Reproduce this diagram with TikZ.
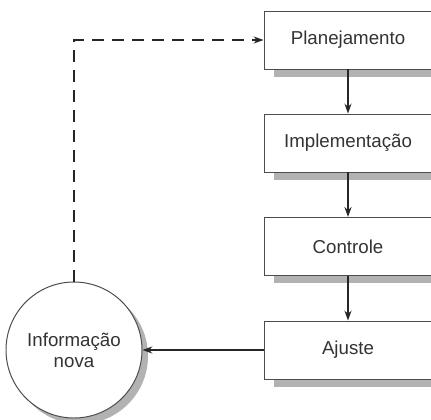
\documentclass[tikz,border=0pt]{standalone}
\usepackage{fontspec}
\setmainfont{Liberation Sans}
\usepackage{tikz}
\usetikzlibrary{arrows.meta,positioning,shadows}

\begin{document}
\begin{tikzpicture}[>={Stealth[length=7pt,width=5pt]}, node distance=2cm]
    \useasboundingbox (0,0) rectangle (10.775,-10.475);
    \tikzset{
      etapa/.style={rectangle, draw=black!70, fill=white, line width=0.7pt,
        minimum width=4.2cm, minimum height=1.45cm, text=black!80,
        font=\fontsize{13.3}{15}\selectfont,
        drop shadow={shadow xshift=0.25cm, shadow yshift=-0.2cm, fill=black!30, opacity=1}},
      seta/.style={->, line width=1.2pt, black!85}
    }
    % Etapas
    \node[etapa] (planejamento) at (8.7, -1.0) {Planejamento};
    \node[etapa] (implementacao) at (8.7, -3.575) {Implementação};
    \node[etapa] (controle) at (8.7, -6.16) {Controle};
    \node[etapa] (ajuste) at (8.7, -8.75) {Ajuste};

    % Informacao
    \node[circle, draw=black!70, fill=white, line width=0.7pt, minimum size=3.4cm,
      align=center, text=black!80, font=\fontsize{13.3}{15}\selectfont,
      drop shadow={shadow xshift=0.15cm, shadow yshift=-0.15cm, fill=black!30, opacity=1}]
      (informacao) at (1.85, -8.75) {Informação\\nova};

    % Setas
    \draw[seta] (planejamento) -- (implementacao);
    \draw[seta] (implementacao) -- (controle);
    \draw[seta] (controle) -- (ajuste);
    \draw[seta] (ajuste) -- (informacao);
    \draw[seta, line width=2pt, dash pattern=on 0.3cm off 0.2cm] (informacao.north) |- (planejamento.west);
\end{tikzpicture}
\end{document}
